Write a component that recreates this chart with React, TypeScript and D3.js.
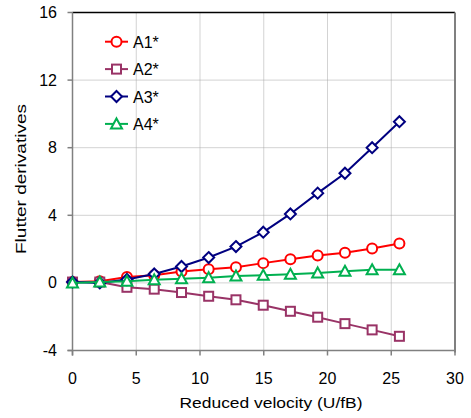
import * as d3 from "d3";

const velocity = [0, 2.14, 4.27, 6.41, 8.55, 10.68, 12.82, 14.96, 17.09, 19.23, 21.37, 23.5, 25.64];
const a1 = [0.05, 0.1, 0.35, 0.45, 0.67, 0.81, 0.93, 1.17, 1.4, 1.62, 1.79, 2.03, 2.33];
const a2 = [0.05, 0.05, -0.26, -0.37, -0.57, -0.79, -1.0, -1.32, -1.68, -2.03, -2.41, -2.78, -3.16];
const a3 = [0.05, 0.0, 0.2, 0.53, 0.97, 1.5, 2.15, 3.0, 4.08, 5.31, 6.49, 8.0, 9.54];
const a4 = [0.0, 0.05, 0.1, 0.18, 0.24, 0.31, 0.41, 0.45, 0.51, 0.59, 0.69, 0.78, 0.78];
const seriesNames = ["A1*", "A2*", "A3*", "A4*"];
const xTicks = [0, 5, 10, 15, 20, 25, 30];
const yTicks = [-4, 0, 4, 8, 12, 16];

const colors = ["#ff0000", "#993366", "#000080", "#00b050"];
const shapes = ["circle", "square", "diamond", "triangle"];

const W = 471;
const H = 418;
const plot = { left: 72.5, right: 455, top: 12.5, bottom: 350.5 };
const font = "'Liberation Sans', Arial, sans-serif";

function Marker({ shape, x, y, color }: { shape: string; x: number; y: number; color: string }) {
  const common = { fill: "#fff", stroke: color, strokeWidth: 2 };
  if (shape === "circle") return <circle cx={x} cy={y} r={5} {...common} />;
  if (shape === "square") return <rect x={x - 4.5} y={y - 4.5} width={9} height={9} {...common} />;
  if (shape === "diamond")
    return <path d={`M${x},${y - 5.5}L${x + 5.5},${y}L${x},${y + 5.5}L${x - 5.5},${y}Z`} {...common} />;
  return <path d={`M${x},${y - 5.5}L${x + 5.5},${y + 4.5}L${x - 5.5},${y + 4.5}Z`} {...common} />;
}

export default function App() {
  const x = d3.scaleLinear().domain([0, 30]).range([plot.left, plot.right]);
  const y = d3.scaleLinear().domain([-4, 16]).range([plot.bottom, plot.top]);
  const all = [a1, a2, a3, a4];
  const line = d3
    .line<number>()
    .x((_, i) => x(velocity[i]))
    .y((d) => y(d));

  return (
    <svg
      width={W}
      height={H}
      style={{ position: "absolute", left: 0, top: 0, background: "#fff" }}
      fontFamily={font}
    >
      {/* grid */}
      {xTicks.slice(1, -1).map((t) => (
        <line key={"gx" + t} x1={x(t)} x2={x(t)} y1={plot.top} y2={plot.bottom} stroke="#a6a6a6" strokeDasharray="1,1" />
      ))}
      {yTicks.slice(1, -1).map((t) => (
        <line key={"gy" + t} x1={plot.left} x2={plot.right} y1={y(t)} y2={y(t)} stroke="#a6a6a6" strokeDasharray="1,1" />
      ))}

      {/* frame */}
      <line x1={plot.left} x2={plot.right} y1={plot.top} y2={plot.top} stroke="#000" strokeWidth={1.5} />
      <line x1={plot.right} x2={plot.right} y1={plot.top} y2={plot.bottom + 2} stroke="#808080" strokeWidth={2} />
      <line x1={plot.left} x2={plot.left} y1={plot.top} y2={plot.bottom + 5} stroke="#808080" strokeWidth={1.5} />
      <line x1={plot.left - 5} x2={plot.right} y1={plot.bottom} y2={plot.bottom} stroke="#808080" strokeWidth={1.5} />

      {yTicks.map((t) => (
        <g key={"ty" + t}>
          <line x1={plot.left - 5} x2={plot.left} y1={y(t)} y2={y(t)} stroke="#808080" strokeWidth={1.5} />
          <text x={57} y={y(t) + 5.5} textAnchor="end" fontSize={16}>
            {t}
          </text>
        </g>
      ))}
      {xTicks.map((t) => (
        <g key={"tx" + t}>
          <line x1={x(t)} x2={x(t)} y1={plot.bottom} y2={plot.bottom + 5} stroke="#808080" strokeWidth={1.5} />
          <text x={x(t)} y={384} textAnchor="middle" fontSize={16}>
            {t}
          </text>
        </g>
      ))}

      <text x={271} y={407.5} textAnchor="middle" fontSize={15.5} textLength={183} lengthAdjust="spacingAndGlyphs">
        Reduced velocity (U/fB)
      </text>
      <text
        transform={`translate(26,179) rotate(-90)`}
        textAnchor="middle"
        fontSize={15.5}
        textLength={150}
        lengthAdjust="spacingAndGlyphs"
      >
        Flutter derivatives
      </text>

      {/* series */}
      {all.map((vals, s) => (
        <g key={"s" + s}>
          <path d={line(vals) ?? ""} fill="none" stroke={colors[s]} strokeWidth={2} />
          {vals.map((v, i) => (
            <Marker key={i} shape={shapes[s]} x={x(velocity[i])} y={y(v)} color={colors[s]} />
          ))}
        </g>
      ))}

      {/* legend */}
      {seriesNames.map((name, s) => {
        const ly = 41.7 + s * 27.4;
        return (
          <g key={"l" + s}>
            <line x1={105} x2={128} y1={ly} y2={ly} stroke={colors[s]} strokeWidth={2} />
            <Marker shape={shapes[s]} x={116.5} y={ly} color={colors[s]} />
            <text x={133} y={ly + 6} fontSize={16}>
              {name}
            </text>
          </g>
        );
      })}
    </svg>
  );
}
